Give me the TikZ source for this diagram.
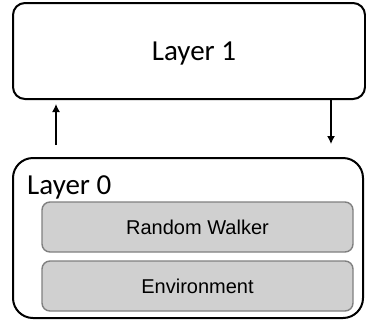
\documentclass[tikz,border=0pt]{standalone}
\usepackage{fontspec}
\setmainfont{Carlito}
\newfontfamily\arialfont{Liberation Sans}
\usetikzlibrary{arrows.meta}
\definecolor{innerfill}{RGB}{208,208,208}
\definecolor{innerdraw}{RGB}{128,128,128}
\tikzset{
  layerbox/.style={draw=black, line width=2pt, fill=white},
  innerbox/.style={draw=innerdraw, line width=1.4pt, fill=innerfill, rounded corners=8pt,
    minimum width=311pt, minimum height=50pt, inner sep=0pt,
    font=\arialfont\fontsize{20}{23}\selectfont},
  layertext/.style={font=\fontsize{29}{33}\selectfont, inner sep=0pt},
  arr/.style={-{Latex[length=8pt,width=8pt]}, line width=1.3pt}
}
\begin{document}
\begin{tikzpicture}[x=1pt,y=-1pt]
\useasboundingbox (0,0) rectangle (366,322);
\node[layerbox, rounded corners=12pt, minimum width=352pt, minimum height=96pt, inner sep=0pt] (l1) at (189,51) {};
\node[layertext] (t1) at (194,54) {Layer 1};
\node[layerbox, rounded corners=20pt, minimum width=350pt, minimum height=160pt, inner sep=0pt] (l0) at (188,238) {};
\node[layertext, anchor=base west] (t0) at (27,194.5) {Layer 0};
\node[innerbox] (rw) at (197.5,227) {Random Walker};
\node[innerbox] (env) at (197.5,286) {Environment};
\coordinate (ux) at (56,0);
\coordinate (dx) at (331,0);
\draw[arr, shorten <=12pt, shorten >=4pt] (l0.north -| ux) -- (l1.south -| ux);
\draw[arr, shorten >=13pt] (l1.south -| dx) -- (l0.north -| dx);
\end{tikzpicture}
\end{document}
